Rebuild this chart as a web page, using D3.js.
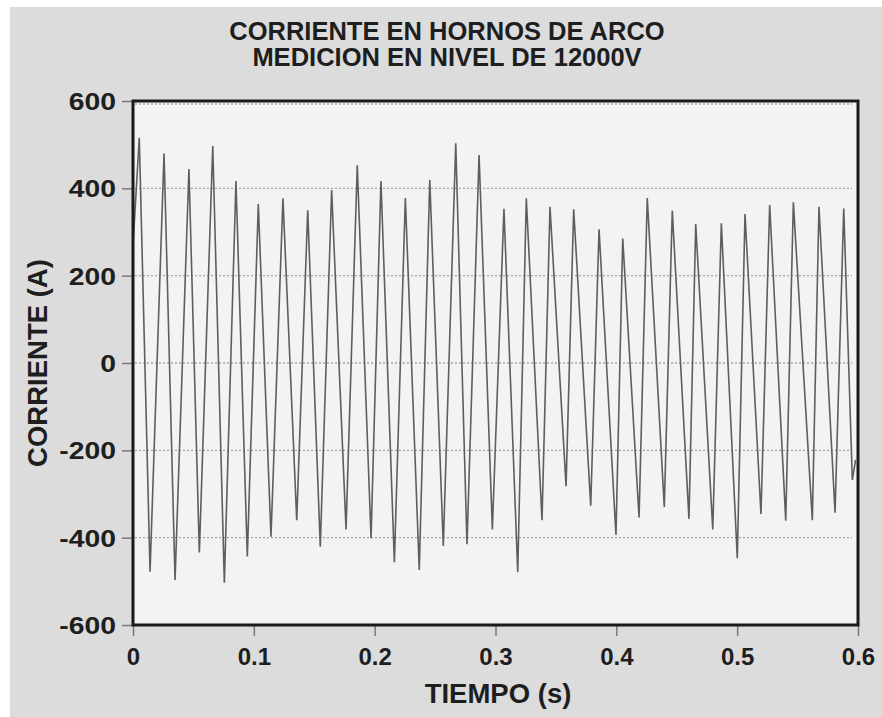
<!DOCTYPE html>
<html>
<head>
<meta charset="utf-8">
<script src="https://cdn.jsdelivr.net/npm/d3@7"></script>
<style>
  html, body { margin: 0; padding: 0; background: #ffffff; }
  svg { display: block; }
  text { font-family: "Liberation Sans", Arial, sans-serif; font-weight: bold; fill: #1e1e1e; }
</style>
</head>
<body>
<svg id="chart" width="882" height="717"></svg>
<script>
// ---- data ----
const titleLines = ["CORRIENTE EN HORNOS DE ARCO", "MEDICION EN NIVEL DE 12000V"];
const xLabel = "TIEMPO (s)";
const yLabel = "CORRIENTE (A)";
const xTicks = [0, 0.1, 0.2, 0.3, 0.4, 0.5, 0.6];
const yTicks = [-600, -400, -200, 0, 200, 400, 600];
const gridValues = [-400, -200, 0, 200, 400, 600];

// time (s) of each turning point of the waveform
const tiempo = [
  0.0000, 0.0052, 0.0141, 0.0257, 0.0348, 0.0463, 0.0549, 0.0660, 0.0756, 0.0852,
  0.0946, 0.1037, 0.1142, 0.1241, 0.1355, 0.1446, 0.1550, 0.1644, 0.1763, 0.1856,
  0.1970, 0.2052, 0.2163, 0.2254, 0.2369, 0.2456, 0.2568, 0.2671, 0.2764, 0.2864,
  0.2974, 0.3070, 0.3184, 0.3255, 0.3385, 0.3451, 0.3584, 0.3647, 0.3788, 0.3857,
  0.3997, 0.4053, 0.4188, 0.4256, 0.4397, 0.4463, 0.4601, 0.4657, 0.4798, 0.4869,
  0.5001, 0.5065, 0.5197, 0.5269, 0.5402, 0.5465, 0.5622, 0.5677, 0.5810, 0.5882,
  0.5953, 0.5980
];
// current (A) at those instants
const corriente = [
   270,  516, -478,  480, -497,  444, -434,  497, -503,  417,
  -443,  364, -398,  377, -360,  350, -421,  396, -381,  453,
  -401,  417, -456,  378, -474,  419, -419,  503, -415,  476,
  -381,  353, -479,  377, -360,  358, -282,  352, -327,  306,
  -394,  285, -354,  378, -330,  349, -357,  318, -381,  320,
  -447,  341, -346,  362, -361,  368, -360,  358, -343,  354,
  -268, -222
];

// ---- layout ----
const svg = d3.select("#chart");
const W = 882, H = 717;
const plot = { left: 133, right: 858, top: 101, bottom: 625 };

svg.append("rect").attr("x", 0).attr("y", 0).attr("width", W).attr("height", H).attr("fill", "#ffffff");
svg.append("rect").attr("x", 10).attr("y", 7).attr("width", W - 10).attr("height", H - 7).attr("fill", "#dcdcdc");

const x = d3.scaleLinear().domain([0, 0.6]).range([plot.left, plot.right]);
const y = d3.scaleLinear().domain([-600, 600]).range([plot.bottom, plot.top]);

// plot background
svg.append("rect")
  .attr("x", plot.left).attr("y", plot.top)
  .attr("width", plot.right - plot.left).attr("height", plot.bottom - plot.top)
  .attr("fill", "#f3f3f3");

// grid
svg.append("g").selectAll("line").data(gridValues).join("line")
  .attr("x1", plot.left + 2).attr("x2", plot.right - 6)
  .attr("y1", d => y(d) + (d === 600 ? 3 : 0)).attr("y2", d => y(d) + (d === 600 ? 3 : 0))
  .attr("stroke", "#a4a4a4").attr("stroke-width", 1.3).attr("stroke-dasharray", "2,2");

// axes
const hyphenFmt = d => String(d).replace("\u2212", "-");
const yAxis = d3.axisLeft(y).tickValues(yTicks).tickSize(11).tickPadding(6).tickFormat(d => hyphenFmt(d));
const xAxis = d3.axisBottom(x).tickValues(xTicks).tickSize(11).tickPadding(12).tickFormat(d => d === 0 ? "0" : d3.format(".1f")(d));

const gy = svg.append("g").attr("transform", `translate(${plot.left},0)`).call(yAxis);
const gx = svg.append("g").attr("transform", `translate(0,${plot.bottom})`).call(xAxis);
[gy, gx].forEach(g => {
  g.select(".domain").remove();
  g.selectAll(".tick line").attr("stroke", "#7a7a7a").attr("stroke-width", 1.5);
  g.selectAll(".tick text").attr("font-size", 24).attr("fill", "#1e1e1e")
    .attr("font-family", "Liberation Sans, Arial, sans-serif").attr("font-weight", "bold");
});
// y tick labels are drawn slightly wider in the reference
gy.selectAll(".tick text")
  .attr("x", null).attr("dy", "0.36em")
  .attr("transform", "translate(-17,0) scale(1.18,1)");

// waveform
const pts = tiempo.map((t, i) => [t, corriente[i]]);
const line = d3.line().x(d => x(d[0])).y(d => y(d[1]));
svg.append("path").datum(pts)
  .attr("d", line)
  .attr("fill", "none")
  .attr("stroke", "#5e5e5e")
  .attr("stroke-width", 1.6)
  .attr("stroke-linejoin", "miter");

// frame
svg.append("rect")
  .attr("x", plot.left).attr("y", plot.top)
  .attr("width", plot.right - plot.left).attr("height", plot.bottom - plot.top)
  .attr("fill", "none").attr("stroke", "#1a1a1a").attr("stroke-width", 3);

// titles
svg.append("g").selectAll("text").data(titleLines).join("text")
  .attr("x", 447).attr("y", (d, i) => 40 + i * 26)
  .attr("text-anchor", "middle").attr("font-size", 25.5)
  .text(d => d);

svg.append("text")
  .attr("x", 498).attr("y", 703)
  .attr("text-anchor", "middle").attr("font-size", 27.5)
  .text(xLabel);

svg.append("text")
  .attr("transform", `translate(47,${(plot.top + plot.bottom) / 2}) rotate(-90)`)
  .attr("text-anchor", "middle").attr("font-size", 27.5)
  .text(yLabel);
</script>
</body>
</html>
